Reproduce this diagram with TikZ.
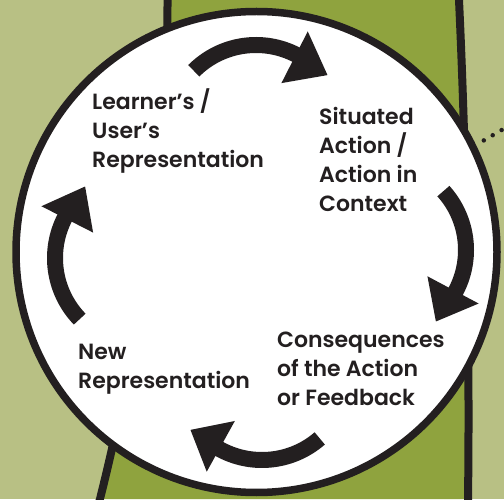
\documentclass[tikz,border=0pt]{standalone}
\usepackage{fontspec}
\setmainfont{Poppins}[BoldFont={Poppins SemiBold}]
\definecolor{paleolive}{HTML}{B8C084}
\definecolor{bandolive}{HTML}{8FA33E}
\definecolor{ink}{HTML}{231F20}

\begin{document}
\begin{tikzpicture}[x=1pt,y=1pt,
    stage/.style={align=left, anchor=base west, inner sep=0pt, text=ink, font=\fontsize{22}{29}\selectfont\bfseries},
    shaft/.style={draw=ink, line width=16pt},
    head/.style={fill=ink},
    bandline/.style={draw=ink, line width=8pt},
    dots/.style={draw=ink, line width=4.5pt, line cap=round, dash pattern=on 0pt off 10.3pt}
  ]
  % background and band
  \fill[paleolive] (0,0) rectangle (504,499);
  \useasboundingbox (0,0) rectangle (504,499);
  \fill[bandolive] (167.5,499) .. controls (168,300) and (125,100) .. (100,0)
    -- (468,0) .. controls (470,150) and (466,350) .. (459,499) -- cycle;
  \draw[bandline] (167.5,510) -- (167.5,499) .. controls (168,300) and (125,100) .. (100,0) -- (97,-10);
  \draw[bandline] (458.5,510) -- (459,499) .. controls (466,350) and (470,150) .. (468,0) -- (468,-10);

  % the cycle
  \node[circle, draw=ink, fill=white, line width=7.5pt, minimum size=481pt, inner sep=0pt] (loop) at (256.5,247) {};
  \coordinate (dotend) at (512,375);
  \draw[dots, shorten <=9pt] (loop.26) -- (dotend);

  % Learner's -> Situated
  \coordinate (ctop) at (256,366);
  \draw[shaft] (ctop) ++(135:88) arc[start angle=135, end angle=62, radius=88];
  \fill[head] ([shift={(63:56)}]ctop) -- ([shift={(63:114)}]ctop) -- ([shift={(39:92)}]ctop) -- cycle;

  % Situated -> Consequences
  \coordinate (cright) at (378,249);
  \draw[shaft] (cright) ++(42:88) arc[start angle=42, end angle=-29, radius=88];
  \fill[head] ([shift={(-28:56)}]cright) -- ([shift={(-28:114)}]cright) -- ([shift={(-51:92)}]cright) -- cycle;

  % Consequences -> New
  \coordinate (cbottom) at (262,127);
  \draw[shaft] (cbottom) ++(-49:88) arc[start angle=-49, end angle=-120, radius=88];
  \fill[head] ([shift={(-119:56)}]cbottom) -- ([shift={(-119:114)}]cbottom) -- ([shift={(-141:92)}]cbottom) -- cycle;

  % New -> Learner's
  \coordinate (cleft) at (143,241);
  \draw[shaft] (cleft) ++(224:88) arc[start angle=224, end angle=152, radius=88];
  \fill[head] ([shift={(153:56)}]cleft) -- ([shift={(153:114)}]cleft) -- ([shift={(129:92)}]cleft) -- cycle;

  % stages (anchored at the last line)
  \node[stage] (learner) at (92,331) {Learner’s /\\User’s\\Representation};
  \node[stage] (situated) at (319,287.5) {Situated\\Action /\\Action in\\Context};
  \node[stage] (conseq) at (277,94) {Consequences\\of the Action\\or Feedback};
  \node[stage] (newrep) at (78,111) {New\\Representation};
\end{tikzpicture}
\end{document}
